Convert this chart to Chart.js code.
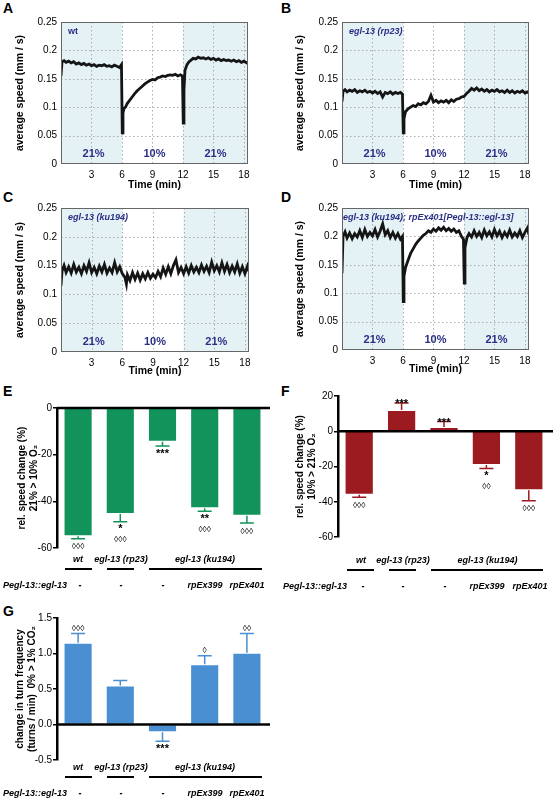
<!DOCTYPE html>
<html><head><meta charset="utf-8">
<script src="https://cdn.jsdelivr.net/npm/chart.js@4"></script>
<style>
body{margin:0;background:#fff;width:553px;height:800px;position:relative;overflow:hidden;font-family:"Liberation Sans",Arial,sans-serif}
canvas{position:absolute}
.t{position:absolute;transform:translate(-50%,-50%);white-space:nowrap;font-weight:bold;font-style:italic;font-size:9px;color:#000}
.l{position:absolute;height:1.5px;background:#000}
.p{position:absolute;font-weight:bold;font-size:14px}
</style></head><body>
<script>
// ---------- data ----------
const traceA=[[0,0.155],[0.1,0.180],[0.3,0.182],[0.5,0.179],[0.75,0.181],[1,0.178],[1.25,0.180],[1.5,0.176],[1.75,0.178],[2,0.175],[2.25,0.177],[2.5,0.174],[2.75,0.176],[3,0.173],[3.25,0.175],[3.5,0.172],[3.75,0.174],[4,0.173],[4.25,0.175],[4.5,0.172],[4.75,0.173],[5,0.171],[5.25,0.174],[5.5,0.172],[5.75,0.170],[5.95,0.175],[6.03,0.055],[6.1,0.090],[6.2,0.098],[6.35,0.100],[6.5,0.106],[6.75,0.112],[7,0.118],[7.25,0.124],[7.5,0.129],[7.75,0.133],[8,0.137],[8.25,0.141],[8.5,0.144],[8.75,0.147],[9,0.149],[9.25,0.148],[9.5,0.152],[9.75,0.153],[10,0.155],[10.25,0.154],[10.5,0.156],[10.75,0.157],[11,0.156],[11.25,0.158],[11.5,0.155],[11.75,0.157],[11.95,0.155],[12.03,0.072],[12.1,0.130],[12.2,0.165],[12.4,0.175],[12.6,0.180],[12.8,0.183],[13,0.186],[13.25,0.185],[13.5,0.188],[13.75,0.186],[14,0.187],[14.25,0.185],[14.5,0.187],[14.75,0.184],[15,0.186],[15.25,0.183],[15.5,0.185],[15.75,0.182],[16,0.184],[16.25,0.182],[16.5,0.183],[16.75,0.181],[17,0.183],[17.25,0.180],[17.5,0.182],[17.75,0.179],[18,0.181],[18.25,0.178],[18.4,0.180]];
const traceB=[[0,0.11],[0.1,0.128],[0.3,0.131],[0.5,0.127],[0.75,0.130],[1,0.128],[1.25,0.131],[1.5,0.126],[1.75,0.129],[2,0.127],[2.25,0.130],[2.5,0.126],[2.75,0.128],[3,0.125],[3.25,0.128],[3.5,0.124],[3.75,0.127],[4,0.118],[4.25,0.126],[4.5,0.124],[4.75,0.127],[5,0.123],[5.25,0.126],[5.5,0.124],[5.75,0.126],[5.95,0.123],[6.03,0.055],[6.1,0.080],[6.25,0.092],[6.5,0.097],[6.75,0.100],[7,0.103],[7.25,0.101],[7.5,0.106],[7.75,0.104],[8,0.108],[8.25,0.106],[8.5,0.110],[8.75,0.121],[9,0.109],[9.25,0.112],[9.5,0.108],[9.75,0.111],[10,0.109],[10.25,0.112],[10.5,0.108],[10.75,0.113],[11,0.110],[11.25,0.114],[11.5,0.115],[11.75,0.118],[12,0.119],[12.25,0.124],[12.5,0.128],[12.75,0.133],[13,0.130],[13.25,0.134],[13.5,0.129],[13.75,0.132],[14,0.128],[14.25,0.131],[14.5,0.127],[14.75,0.130],[15,0.128],[15.25,0.131],[15.5,0.127],[15.75,0.129],[16,0.126],[16.25,0.130],[16.5,0.126],[16.75,0.129],[17,0.125],[17.25,0.128],[17.5,0.126],[17.75,0.129],[18,0.125],[18.25,0.127],[18.4,0.125]];
const traceC=[[0,0.115],[0.1,0.140],[0.3,0.150],[0.5,0.138],[0.75,0.148],[1,0.137],[1.25,0.152],[1.5,0.139],[1.75,0.147],[2,0.136],[2.25,0.150],[2.5,0.140],[2.75,0.155],[3,0.138],[3.25,0.147],[3.5,0.136],[3.75,0.149],[4,0.139],[4.25,0.152],[4.5,0.137],[4.75,0.146],[5,0.138],[5.25,0.155],[5.5,0.139],[5.75,0.148],[6,0.136],[6.25,0.130],[6.4,0.118],[6.5,0.134],[6.75,0.124],[7,0.138],[7.25,0.126],[7.5,0.137],[7.75,0.125],[8,0.136],[8.25,0.127],[8.5,0.138],[8.75,0.128],[9,0.135],[9.25,0.129],[9.5,0.140],[9.75,0.131],[10,0.146],[10.25,0.135],[10.5,0.148],[10.75,0.136],[11,0.150],[11.25,0.160],[11.5,0.138],[11.75,0.147],[12,0.136],[12.25,0.148],[12.5,0.137],[12.75,0.150],[13,0.139],[13.25,0.147],[13.5,0.138],[13.75,0.151],[14,0.140],[14.25,0.149],[14.5,0.138],[14.75,0.156],[15,0.141],[15.25,0.150],[15.5,0.139],[15.75,0.155],[16,0.140],[16.25,0.152],[16.5,0.138],[16.75,0.149],[17,0.139],[17.25,0.153],[17.5,0.137],[17.75,0.148],[18,0.136],[18.25,0.149],[18.4,0.140]];
const traceD=[[0,0.135],[0.1,0.200],[0.3,0.208],[0.5,0.197],[0.75,0.206],[1,0.196],[1.25,0.205],[1.5,0.199],[1.75,0.210],[2,0.198],[2.25,0.212],[2.5,0.200],[2.75,0.207],[3,0.201],[3.25,0.212],[3.5,0.199],[3.75,0.209],[4,0.222],[4.25,0.203],[4.5,0.210],[4.75,0.198],[5,0.207],[5.25,0.197],[5.5,0.205],[5.75,0.195],[5.95,0.200],[6.03,0.085],[6.1,0.130],[6.25,0.145],[6.5,0.158],[6.75,0.170],[7,0.178],[7.25,0.186],[7.5,0.192],[7.75,0.197],[8,0.202],[8.25,0.205],[8.5,0.210],[8.75,0.207],[9,0.213],[9.25,0.209],[9.5,0.215],[9.75,0.211],[10,0.216],[10.25,0.210],[10.5,0.214],[10.75,0.209],[11,0.213],[11.25,0.207],[11.5,0.210],[11.75,0.200],[11.95,0.195],[12.03,0.118],[12.1,0.180],[12.3,0.198],[12.5,0.205],[12.75,0.199],[13,0.210],[13.25,0.200],[13.5,0.207],[13.75,0.198],[14,0.211],[14.25,0.201],[14.5,0.208],[14.75,0.199],[15,0.212],[15.25,0.201],[15.5,0.209],[15.75,0.198],[16,0.207],[16.25,0.200],[16.5,0.211],[16.75,0.199],[17,0.206],[17.25,0.200],[17.5,0.210],[17.75,0.198],[18,0.207],[18.25,0.215],[18.4,0.203]];
const timeTicks=[3,6,9,12,15,18];
const speedTicks=[0,0.05,0.1,0.15,0.2,0.25];
const phaseLabels=['21%','10%','21%'];
const phaseCenters=[3.2,9.2,15.2];

const barCats=['wt','rp23','ku194','rpEx399','rpEx401'];
const valE=[-55,-45.4,-14.5,-43,-46.2], errE=[-56,-48.8,-16.3,-44.2,-49.3];
const sigE=['◊◊◊','*\n◊◊◊','***','**\n◊◊◊','◊◊◊'];
const valF=[-36,12.1,2.4,-19.1,-33.5], errF=[-37.5,16,5.5,-21.2,-39.4];
const sigF=['◊◊◊','***','***','*\n◊◊','◊◊◊'];
const valG=[1.15,0.55,-0.11,0.85,1.01], errG=[1.28,0.62,-0.235,0.97,1.28];
const sigG=['◊◊◊','','***','◊','◊◊'];
const ticksE=[0,-20,-40,-60], ticksF=[20,0,-20,-40,-60], ticksG=[-0.5,0,0.5,1,1.5];
const groupNames=['wt','egl-13 (rp23)','egl-13 (ku194)'];
const transgene=['-','-','-','rpEx399','rpEx401'];

// ---------- helpers ----------
const FONT='"Liberation Sans", Arial, sans-serif';
Chart.defaults.font.family=FONT;
Chart.defaults.color='#000';
function mkCanvas(x0,y0,x1,y1){const c=document.createElement('canvas');c.width=x1-x0;c.height=y1-y0;c.style.left=x0+'px';c.style.top=y0+'px';c.style.width=(x1-x0)+'px';c.style.height=(y1-y0)+'px';document.body.appendChild(c);return c;}
function text(s,x,y,extra){const d=document.createElement('div');d.className='t';d.textContent=s;d.style.left=x+'px';d.style.top=y+'px';if(extra)Object.assign(d.style,extra);document.body.appendChild(d);}
function line(x0,x1,y){const d=document.createElement('div');d.className='l';d.style.left=x0+'px';d.style.width=(x1-x0)+'px';d.style.top=y+'px';document.body.appendChild(d);}
function letter(s,x,y){const d=document.createElement('div');d.className='p';d.textContent=s;d.style.left=x+'px';d.style.top=y+'px';document.body.appendChild(d);}

function tracePanel(trace,strain,italic,box){
  const [x0,y0,x1,y1,pl,pt,pr,pb]=box;
  const c=mkCanvas(x0,y0,x1,y1);
  const deco={id:'deco',
    beforeDatasetsDraw(ch){const {ctx,chartArea:a,scales:{x,y}}=ch;ctx.save();
      ctx.fillStyle='#e4f2f5';
      ctx.fillRect(x.getPixelForValue(0),a.top,x.getPixelForValue(6)-x.getPixelForValue(0),a.bottom-a.top);
      ctx.fillRect(x.getPixelForValue(12),a.top,a.right-x.getPixelForValue(12),a.bottom-a.top);
      ctx.strokeStyle='#999';ctx.lineWidth=0.8;ctx.setLineDash([1.5,2.5]);
      timeTicks.forEach(v=>{const px=Math.round(x.getPixelForValue(v))+0.5;ctx.beginPath();ctx.moveTo(px,a.top);ctx.lineTo(px,a.bottom);ctx.stroke();});
      speedTicks.slice(1,-1).forEach(v=>{const py=Math.round(y.getPixelForValue(v))+0.5;ctx.beginPath();ctx.moveTo(a.left,py);ctx.lineTo(a.right,py);ctx.stroke();});
      ctx.setLineDash([]);
      ctx.fillStyle='#2a2f85';ctx.font='bold 11px '+FONT;ctx.textAlign='center';ctx.textBaseline='alphabetic';
      phaseLabels.forEach((s,i)=>ctx.fillText(s,x.getPixelForValue(phaseCenters[i]),y.getPixelForValue(0.012)));
      ctx.font=(italic?'italic ':'')+'bold '+(strain.length>20?'9':'9')+'px '+FONT;ctx.textAlign='left';
      ctx.fillText(strain,a.left+(strain.length>20?1:7),a.top+12);
      ctx.restore();},
    afterDraw(ch){const {ctx,chartArea:a}=ch;ctx.save();ctx.strokeStyle='#666';ctx.lineWidth=1;ctx.strokeRect(a.left+0.5,a.top+0.5,a.right-a.left-1,a.bottom-a.top-1);ctx.restore();}
  };
  new Chart(c,{type:'line',
    data:{datasets:[{data:trace.map(([t,v])=>({x:t,y:v})),borderColor:'#151515',borderWidth:2.8,pointRadius:0,tension:0}]},
    options:{responsive:false,animation:false,events:[],
      layout:{padding:{top:pt-y0,right:x1-pr,left:0,bottom:0}},
      plugins:{legend:{display:false},tooltip:{enabled:false}},
      scales:{
        x:{type:'linear',min:0,max:18.4,afterBuildTicks:s=>{s.ticks=timeTicks.map(v=>({value:v}));},afterFit:s=>{s.height=y1-pb;},
          grid:{display:false,drawTicks:false},border:{display:false},ticks:{font:{size:10},padding:5,maxRotation:0},
          title:{display:true,text:'Time (min)',font:{size:10.5,weight:'bold'},padding:{top:0,bottom:0}}},
        y:{min:0,max:0.25,afterBuildTicks:s=>{s.ticks=speedTicks.map(v=>({value:v}));},afterFit:s=>{s.width=pl-x0;},
          grid:{display:false,drawTicks:false},border:{display:false},ticks:{font:{size:10},padding:4,callback:v=>v===0?'0':String(+v.toFixed(2))},
          title:{display:true,text:'average speed (mm / s)',font:{size:10.5,weight:'bold'},padding:0}}
      }},plugins:[deco]});
}
tracePanel(traceA,'wt',false,[14,12,256,191,61,21,248,164]);
tracePanel(traceB,'egl-13 (rp23)',true,[294,12,540,191,342,21,529,164]);
tracePanel(traceC,'egl-13 (ku194)',true,[14,198,256,377,61,207,249,352]);
tracePanel(traceD,'egl-13 (ku194); rpEx401[Pegl-13::egl-13]',true,[294,198,540,375,342,207,529,350]);

function barPanel(vals,errs,sigs,ticks,color,title,box,zeroRight,fmt){
  const [x0,y0,x1,y1,pl,pt,pr,pb]=box;
  const c=mkCanvas(x0,y0,x1,y1);
  const deco={id:'bdeco',
    afterDatasetsDraw(ch){const {ctx,scales:{x,y}}=ch;ctx.save();
      ctx.strokeStyle=color;ctx.lineWidth=1.5;
      vals.forEach((v,i)=>{const px=x.getPixelForValue(i),p0=y.getPixelForValue(v),p1=y.getPixelForValue(errs[i]);
        ctx.beginPath();ctx.moveTo(px,p0);ctx.lineTo(px,p1);ctx.moveTo(px-7,p1);ctx.lineTo(px+7,p1);ctx.stroke();
        const lines=sigs[i]?sigs[i].split('\n'):[];
        ctx.fillStyle='#000';ctx.textAlign='center';
        lines.forEach((s,k)=>{ctx.font=(s.includes('*')?'bold 11px ':'8.5px ')+FONT;
          if(errs[i]<0){ctx.textBaseline='top';ctx.fillText(s,px,p1+(s.includes('*')?2:4)+k*10);}
          else{ctx.textBaseline='alphabetic';ctx.fillText(s,px,p1-(s.includes('*')?-4:3)-(lines.length-1-k)*10);}
        });});
      const zy=y.getPixelForValue(0);ctx.strokeStyle='#000';ctx.lineWidth=2.5;ctx.beginPath();ctx.moveTo(pl-x0,zy);ctx.lineTo(zeroRight-x0,zy);ctx.stroke();
      ctx.restore();}};
  new Chart(c,{type:'bar',
    data:{labels:barCats,datasets:[{data:vals,backgroundColor:color,borderColor:'rgba(255,255,255,0.35)',borderWidth:1,barPercentage:0.69,categoryPercentage:1}]},
    options:{responsive:false,animation:false,events:[],
      layout:{padding:{top:pt-y0,right:x1-pr,left:0,bottom:y1-pb}},
      plugins:{legend:{display:false},tooltip:{enabled:false}},
      scales:{x:{display:false},
        y:{min:Math.min(...ticks),max:Math.max(...ticks),
          afterBuildTicks:s=>{s.ticks=ticks.map(v=>({value:v}));},afterFit:s=>{s.width=pl-x0;},
          grid:{drawOnChartArea:false,drawTicks:true,tickLength:4,color:'#000',lineWidth:1.5},
          border:{color:'#000',width:2.5},
          ticks:{font:{size:10},padding:1,callback:fmt},
          title:{display:true,text:title,font:{size:10,weight:'bold'},padding:{top:0,bottom:2}}}}},
    plugins:[deco]});
}
barPanel(valE,errE,sigE,ticksE,'#12935b',['rel. speed change (%)','21% > 10% O₂'],[16,396,280,556,57,408,268,548],270,v=>String(v));
barPanel(valF,errF,sigF,ticksF,'#9b1b20',['rel. speed change (%)','10% > 21% O₂'],[294,388,553,544,338,396,550,537],553,v=>String(v));
barPanel(valG,errG,sigG,ticksG,'#4a8fd2',['change in turn frequency','(turns / min)  0% > 1% CO₂'],[14,606,280,768,57,618,268,760],270,v=>v.toFixed(1));

function labelRows(centers,gy,ly,py,segs,peglX){
  text(groupNames[0],centers[0],gy);text(groupNames[1],centers[1],gy);text(groupNames[2],(centers[2]+centers[4])/2,gy);
  segs.forEach(s=>line(s[0],s[1],ly));
  const d=document.createElement('div');d.className='t';d.textContent='Pegl-13::egl-13';d.style.transform='translate(0,-50%)';d.style.left=peglX+'px';d.style.top=py+'px';document.body.appendChild(d);
  transgene.forEach((s,i)=>text(s,centers[i]+(i===0?2:0),py));
}
const cE=[78,121,163,205,247], cF=[361,403,445,487,530];
labelRows(cE,559,568,585,[[65,92],[107,134],[149,262]],3);
labelRows(cF,560,569,586,[[347,374],[389,416],[431,543]],283);
labelRows(cE,767,776,793,[[65,92],[107,134],[149,262]],3);

letter('A',3,0);letter('B',281,0);letter('C',3,189);letter('D',281,189);letter('E',3,383);letter('F',281,383);letter('G',3,603);
</script></body></html>
